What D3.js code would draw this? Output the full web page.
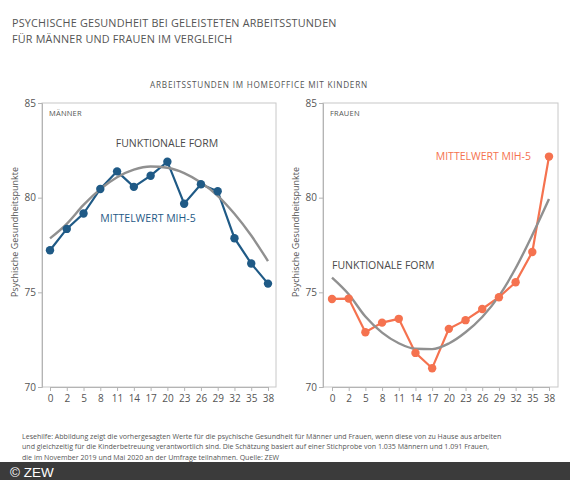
<!DOCTYPE html>
<html>
<head>
<meta charset="utf-8">
<script src="https://cdn.jsdelivr.net/npm/d3@7"></script>
<style>
  body { margin: 0; background: #fff; }
  svg { display: block; font-family: "Open Sans", sans-serif; }
</style>
</head>
<body>
<svg id="chart"></svg>
<script>
var size = { width: 570, height: 480 };

// Arbeitsstunden (categories)
var hours = [0, 2, 5, 8, 11, 14, 17, 20, 23, 26, 29, 32, 35, 38];
var yTicks = [70, 75, 80, 85];

// Männer
var menMean = [77.22, 78.35, 79.16, 80.46, 81.39, 80.57, 81.16, 81.90, 79.68, 80.71, 80.34, 77.86, 76.52, 75.46];
var menFit  = [77.85, 78.62, 79.62, 80.45, 81.08, 81.48, 81.65, 81.58, 81.30, 80.80, 80.10, 79.15, 78.00, 76.65];

// Frauen
var womenMean = [74.65, 74.67, 72.89, 73.40, 73.60, 71.80, 70.99, 73.07, 73.53, 74.12, 74.74, 75.53, 77.13, 82.17];
var womenFit  = [75.78, 74.90, 73.72, 72.87, 72.31, 72.02, 72.00, 72.30, 72.89, 73.70, 74.80, 76.27, 78.03, 79.93];

var colors = { men: "#1f5a86", women: "#f5724f", fit: "#909090", text: "#555" };

var plotTop = 103, plotBottom = 387;

var svg = d3.select("#chart")
  .attr("width", size.width)
  .attr("height", size.height);

// titles
svg.append("text").attr("x", 12).attr("y", 27)
  .attr("font-size", 10.8).attr("fill", "#555").attr("letter-spacing", 0.2)
  .text("PSYCHISCHE GESUNDHEIT BEI GELEISTETEN ARBEITSSTUNDEN");
svg.append("text").attr("x", 12).attr("y", 43)
  .attr("font-size", 10.8).attr("fill", "#555").attr("letter-spacing", 0.2)
  .text("FÜR MÄNNER UND FRAUEN IM VERGLEICH");
svg.append("text").attr("x", 259).attr("y", 88)
  .attr("text-anchor", "middle")
  .attr("font-size", 8.2).attr("fill", "#555").attr("letter-spacing", 0.75)
  .text("ARBEITSSTUNDEN IM HOMEOFFICE MIT KINDERN");

var panels = [
  { left: 42, right: 276, x0: 50, x1: 268, name: "MÄNNER", mean: menMean, fit: menFit, color: colors.men, labelX: 15,
    fitLabel: { x: 167, y: 147, anchor: "middle" }, meanLabel: { x: 148, y: 222, anchor: "middle" } },
  { left: 323, right: 558, x0: 332, x1: 549, name: "FRAUEN", mean: womenMean, fit: womenFit, color: colors.women, labelX: 296,
    fitLabel: { x: 332, y: 269, anchor: "start" }, meanLabel: { x: 531, y: 160, anchor: "end" } }
];

panels.forEach(function(p) {
  var x = d3.scalePoint().domain(hours).range([p.x0, p.x1]);
  var y = d3.scaleLinear().domain([70, 85]).range([plotBottom, plotTop]);
  var g = svg.append("g");

  // frame
  g.append("rect")
    .attr("x", p.left).attr("y", plotTop)
    .attr("width", p.right - p.left).attr("height", plotBottom - plotTop)
    .attr("fill", "none").attr("stroke", "#c8c8c8").attr("stroke-width", 1);

  var yAxis = g.append("g")
    .attr("transform", "translate(" + p.left + ",0)")
    .call(d3.axisLeft(y).tickValues(yTicks).tickSize(4).tickPadding(2));
  var xAxis = g.append("g")
    .attr("transform", "translate(0," + plotBottom + ")")
    .call(d3.axisBottom(x).tickSize(4).tickPadding(4));
  [yAxis, xAxis].forEach(function(a) {
    a.select(".domain").attr("stroke", "#b4b4b4");
    a.selectAll(".tick line").attr("stroke", "#b4b4b4");
    a.selectAll(".tick text").attr("fill", colors.text).attr("font-size", 10)
      .attr("font-family", "Open Sans, sans-serif");
  });

  // y axis label
  g.append("text")
    .attr("transform", "translate(" + p.labelX + "," + 232 + ") rotate(-90)")
    .attr("text-anchor", "middle").attr("dy", "0.35em")
    .attr("font-size", 9).attr("fill", colors.text)
    .text("Psychische Gesundheitspunkte");

  g.append("text").attr("x", p.left + 7).attr("y", plotTop + 13)
    .attr("font-size", 7.5).attr("fill", colors.text).attr("letter-spacing", 0.2)
    .text(p.name);

  var fitLine = d3.line()
    .x(function(d, i) { return x(hours[i]); })
    .y(function(d) { return y(d); })
    .curve(d3.curveMonotoneX);
  var meanLine = d3.line()
    .x(function(d, i) { return x(hours[i]); })
    .y(function(d) { return y(d); });

  g.append("path").datum(p.mean)
    .attr("d", meanLine).attr("fill", "none")
    .attr("stroke", p.color).attr("stroke-width", 2.2);

  g.append("path").datum(p.fit)
    .attr("d", fitLine).attr("fill", "none")
    .attr("stroke", colors.fit).attr("stroke-width", 2.4);

  g.selectAll("circle").data(p.mean).enter().append("circle")
    .attr("cx", function(d, i) { return x(hours[i]); })
    .attr("cy", function(d) { return y(d); })
    .attr("r", 4.2)
    .attr("fill", p.color);

  g.append("text").attr("x", p.fitLabel.x).attr("y", p.fitLabel.y)
    .attr("text-anchor", p.fitLabel.anchor)
    .attr("font-size", 10.5).attr("fill", "#4a4a4a")
    .text("FUNKTIONALE FORM");
  g.append("text").attr("x", p.meanLabel.x).attr("y", p.meanLabel.y)
    .attr("text-anchor", p.meanLabel.anchor)
    .attr("font-size", 10.5).attr("fill", p.color)
    .text("MITTELWERT MIH-5");
});

// footnote
var notes = [
  "Lesehilfe: Abbildung zeigt die vorhergesagten Werte für die psychische Gesundheit für Männer und Frauen, wenn diese von zu Hause aus arbeiten",
  "und  gleichzeitig für die Kinderbetreuung verantwortlich sind. Die Schätzung basiert auf einer Stichprobe von 1.035 Männern und 1.091 Frauen,",
  "die im November 2019 und Mai 2020 an der Umfrage teilnahmen. Quelle: ZEW"
];
svg.selectAll("text.note").data(notes).enter().append("text")
  .attr("class", "note")
  .attr("x", 22)
  .attr("y", function(d, i) { return 438.5 + i * 10.7; })
  .attr("font-size", 7.05).attr("fill", "#555")
  .text(function(d) { return d; });

// footer bar
svg.append("rect").attr("x", 0).attr("y", 462).attr("width", size.width).attr("height", 18)
  .attr("fill", "#3b3b3b");
svg.append("text").attr("x", 10).attr("y", 477)
  .attr("font-size", 13.5).attr("fill", "#fff")
  .attr("font-family", "Liberation Sans, Arial, sans-serif")
  .text("© ZEW");
</script>
</body>
</html>
